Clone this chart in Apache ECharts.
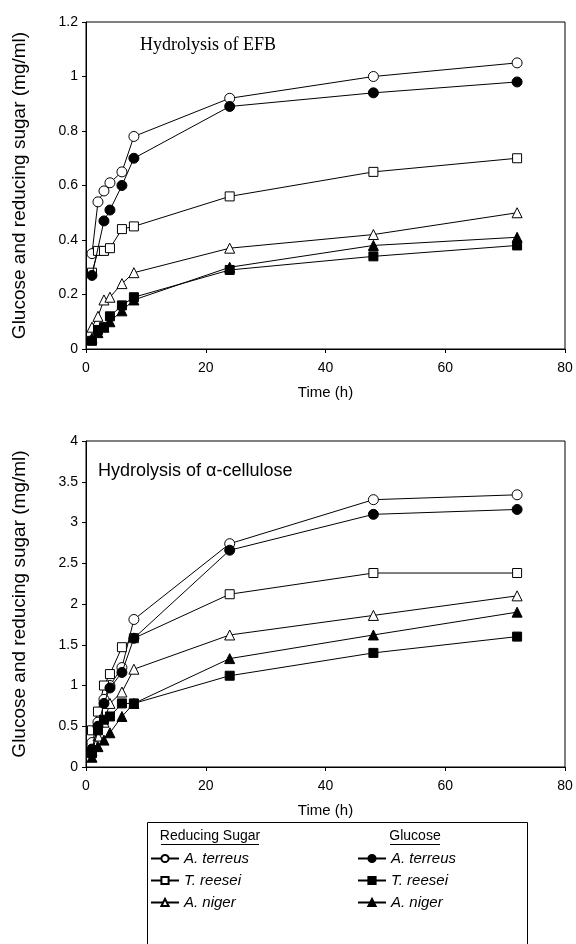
<!DOCTYPE html>
<html>
<head>
<meta charset="utf-8">
<script src="https://cdn.jsdelivr.net/npm/echarts@6/dist/echarts.min.js"></script>
<style>
html,body{margin:0;padding:0;background:#fff;}
#c{width:576px;height:944px;}
</style>
</head>
<body>
<div id="c"></div>
<script>
// ---- Data ----
const times = [1, 2, 3, 4, 6, 8, 24, 48, 72];
const xTicks = [0, 20, 40, 60, 80];
const efbTicks = [0, 0.2, 0.4, 0.6, 0.8, 1, 1.2];
const celTicks = [0, 0.5, 1, 1.5, 2, 2.5, 3, 3.5, 4];

// Hydrolysis of EFB
const efbRsTerreus = [0.35, 0.54, 0.58, 0.61, 0.65, 0.78, 0.92, 1.00, 1.05];
const efbRsReesei  = [0.28, 0.36, 0.36, 0.37, 0.44, 0.45, 0.56, 0.65, 0.70];
const efbRsNiger   = [0.08, 0.12, 0.18, 0.19, 0.24, 0.28, 0.37, 0.42, 0.50];
const efbGlTerreus = [0.27, null, 0.47, 0.51, 0.60, 0.70, 0.89, 0.94, 0.98];
const efbGlReesei  = [0.03, 0.07, 0.08, 0.12, 0.16, 0.19, 0.29, 0.34, 0.38];
const efbGlNiger   = [0.04, 0.06, 0.08, 0.10, 0.14, 0.18, 0.30, 0.38, 0.41];

// Hydrolysis of alpha-cellulose
const celRsTerreus = [0.30, 0.55, 0.83, 1.00, 1.22, 1.81, 2.74, 3.28, 3.34];
const celRsReesei  = [0.45, 0.68, 1.00, 1.14, 1.47, 1.58, 2.12, 2.38, 2.38];
const celRsNiger   = [0.20, 0.38, 0.55, 0.78, 0.92, 1.20, 1.62, 1.86, 2.10];
const celGlTerreus = [0.22, 0.50, 0.78, 0.97, 1.16, 1.58, 2.66, 3.10, 3.16];
const celGlReesei  = [0.17, 0.45, 0.58, 0.62, 0.78, 0.78, 1.12, 1.40, 1.60];
const celGlNiger   = [0.12, 0.25, 0.33, 0.42, 0.62, 0.78, 1.33, 1.62, 1.90];

const rsNames = ['A. terreus', 'T. reesei', 'A. niger'];
const glNames = ['A. terreus', 'T. reesei', 'A. niger'];

// ---- Build ----
function pairs(vals) {
  const out = [];
  vals.forEach((v, i) => { if (v !== null) out.push([times[i], v]); });
  return out;
}
const FONT = '"Liberation Sans", Arial, sans-serif';
function mk(name, vals, symbol, filled, idx) {
  return {
    name: name, type: 'line', xAxisIndex: idx, yAxisIndex: idx,
    data: pairs(vals), symbol: symbol,
    symbolSize: symbol === 'triangle' ? 10 : (symbol === 'rect' ? 9 : 10),
    showSymbol: true, animation: false,
    lineStyle: { color: '#000', width: 1 },
    itemStyle: { color: filled ? '#000' : '#fff', borderColor: '#000', borderWidth: 1 },
    emphasis: { disabled: true }, z: filled ? 3 : 2
  };
}
function xAx(idx) {
  return {
    type: 'value', gridIndex: idx, min: 0, max: 80, interval: 20,
    name: 'Time (h)', nameLocation: 'middle', nameGap: 36,
    nameTextStyle: { fontFamily: FONT, fontSize: 15, color: '#000' },
    axisLine: { show: true, lineStyle: { color: '#000', width: 1 } },
    axisTick: { show: true, length: 4, lineStyle: { color: '#000' } },
    axisLabel: { fontFamily: FONT, fontSize: 14, color: '#000', margin: 12,
      formatter: v => xTicks.includes(v) ? String(v) : '' },
    splitLine: { show: false }
  };
}
function yAx(idx, max, interval, ticks) {
  return {
    type: 'value', gridIndex: idx, min: 0, max: max, interval: interval,
    name: 'Glucose and reducing sugar (mg/ml)', nameLocation: 'middle', nameGap: 57,
    nameTextStyle: { fontFamily: FONT, fontSize: 19, color: '#000' },
    axisLine: { show: true, lineStyle: { color: '#000', width: 1 } },
    axisTick: { show: true, length: 4, lineStyle: { color: '#000' } },
    axisLabel: { fontFamily: FONT, fontSize: 14, color: '#000', margin: 8,
      formatter: v => { const t = ticks.find(k => Math.abs(k - v) < 1e-9); return t === undefined ? '' : String(t); } },
    splitLine: { show: false }
  };
}

const series = [
  mk('rs0', efbRsTerreus, 'circle', false, 0),
  mk('rs1', efbRsReesei, 'rect', false, 0),
  mk('rs2', efbRsNiger, 'triangle', false, 0),
  mk('gl0', efbGlTerreus, 'circle', true, 0),
  mk('gl1', efbGlReesei, 'rect', true, 0),
  mk('gl2', efbGlNiger, 'triangle', true, 0),
  mk('rs0', celRsTerreus, 'circle', false, 1),
  mk('rs1', celRsReesei, 'rect', false, 1),
  mk('rs2', celRsNiger, 'triangle', false, 1),
  mk('gl0', celGlTerreus, 'circle', true, 1),
  mk('gl1', celGlReesei, 'rect', true, 1),
  mk('gl2', celGlNiger, 'triangle', true, 1)
];

const legendCommon = {
  orient: 'vertical', itemWidth: 28, itemHeight: 9, itemGap: 7, padding: 0,
  selectedMode: false,
  textStyle: { fontFamily: FONT, fontSize: 15, fontStyle: 'italic', color: '#000' }
};

const chart = echarts.init(document.getElementById('c'), null, { renderer: 'canvas' });
chart.setOption({
  backgroundColor: '#fff',
  animation: false,
  grid: [
    { left: 86, right: 11, top: 22, height: 327, show: true, borderColor: '#000', borderWidth: 1, backgroundColor: 'transparent' },
    { left: 86, right: 11, top: 441, height: 326, show: true, borderColor: '#000', borderWidth: 1, backgroundColor: 'transparent' }
  ],
  xAxis: [xAx(0), xAx(1)],
  yAxis: [yAx(0, 1.2, 0.2, efbTicks), yAx(1, 4, 0.5, celTicks)],
  legend: [
    Object.assign({}, legendCommon, { left: 150, top: 851, data: ['rs0', 'rs1', 'rs2'],
      formatter: n => rsNames[+n.slice(2)] }),
    Object.assign({}, legendCommon, { left: 357, top: 851, data: ['gl0', 'gl1', 'gl2'],
      formatter: n => glNames[+n.slice(2)] })
  ],
  graphic: [
    { type: 'text', left: 140, top: 36, style: { text: 'Hydrolysis of EFB', font: '18px "Liberation Serif", "Times New Roman", serif', fill: '#000' } },
    { type: 'text', left: 98, top: 462, style: { text: 'Hydrolysis of \u03b1-cellulose', font: '18px "Liberation Sans", Arial, sans-serif', fill: '#000' } },
    { type: 'rect', shape: { x: 147.5, y: 822.5, width: 380, height: 140 }, style: { fill: 'none', stroke: '#000', lineWidth: 1 } },
    { type: 'text', x: 210, y: 836, style: { text: 'Reducing Sugar', font: '14px "Liberation Sans", Arial, sans-serif', fill: '#000', align: 'center', verticalAlign: 'middle' } },
    { type: 'line', shape: { x1: 161, y1: 844.5, x2: 259, y2: 844.5 }, style: { stroke: '#000', lineWidth: 1 } },
    { type: 'text', x: 415, y: 836, style: { text: 'Glucose', font: '14px "Liberation Sans", Arial, sans-serif', fill: '#000', align: 'center', verticalAlign: 'middle' } },
    { type: 'line', shape: { x1: 390, y1: 844.5, x2: 440, y2: 844.5 }, style: { stroke: '#000', lineWidth: 1 } }
  ],
  series: series
});
</script>
</body>
</html>
